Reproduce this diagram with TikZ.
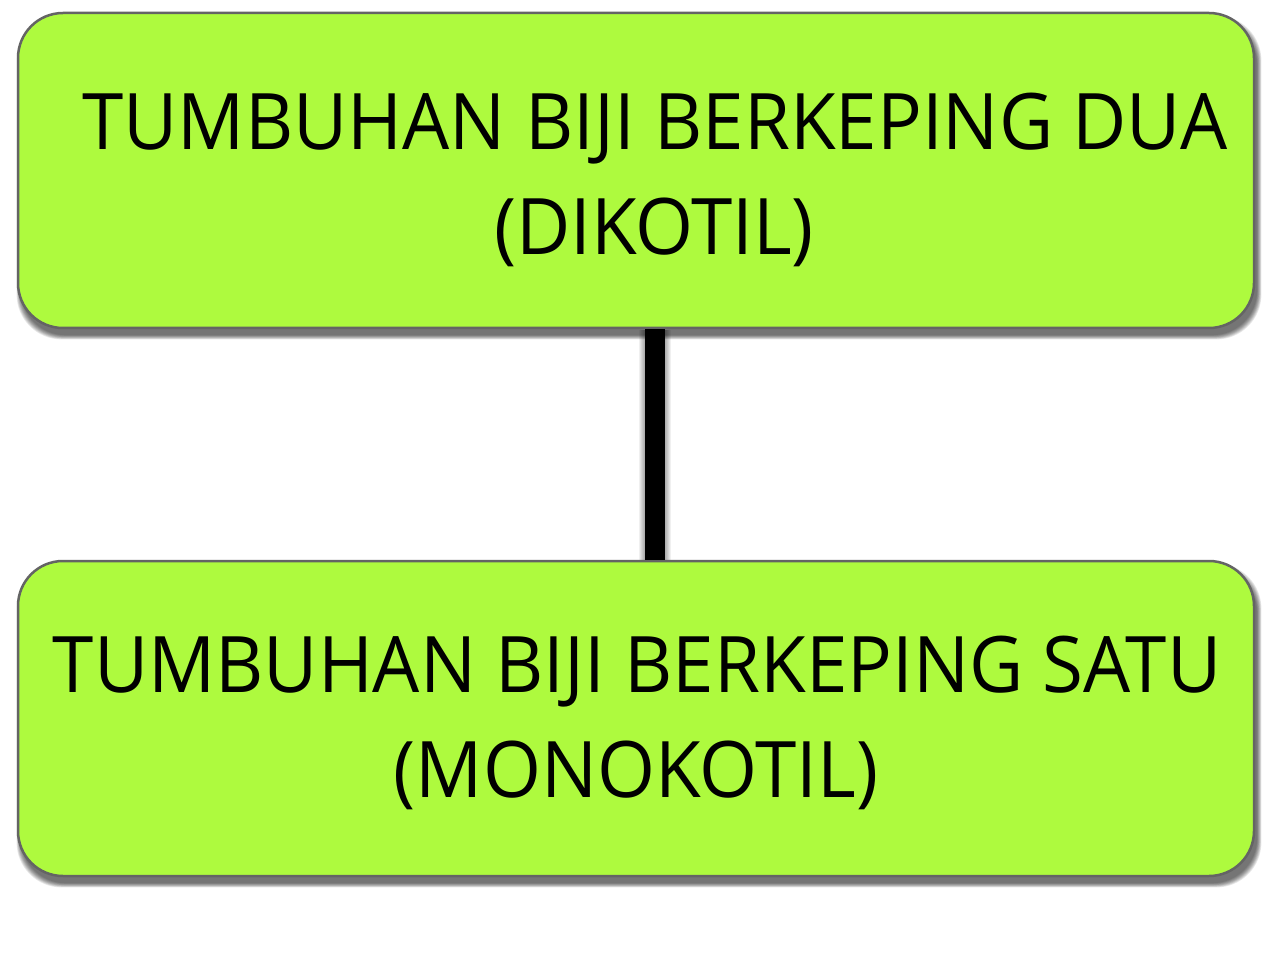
\documentclass[tikz,border=0pt]{standalone}
\usepackage{fontspec}
\setmainfont[FakeStretch=0.955]{Open Sans}
\definecolor{boxgreen}{RGB}{174,250,62}
\definecolor{boxedge}{RGB}{100,100,100}
\tikzset{
  box/.style={draw=boxedge, line width=2.5pt, fill=boxgreen, rounded corners=45pt,
    minimum width=1236pt, minimum height=315pt, inner sep=0pt},
  label/.style={font=\fontsize{78}{105}\selectfont, anchor=base, inner sep=0pt},
  link/.style={line width=20pt, draw=black},
}
\newcommand{\blurbox}[4]{% cx cy w h
  \foreach \i in {1,...,8}{
    \fill[black, opacity=0.09, rounded corners=45pt]
      ($(#1,#2)+(3,7)+(-#3/2-5+\i*0.6,-#4/2-5+\i*0.6)$) rectangle ($(#1,#2)+(3,7)+(#3/2+5-\i*0.6,#4/2+5-\i*0.6)$);
  }
}
\usetikzlibrary{calc}
\begin{document}
\begin{tikzpicture}[x=1pt,y=-1pt]
\useasboundingbox[fill=white] (0,0) rectangle (1272,968);
% shadows
\blurbox{636}{170.5}{1236}{315}
\blurbox{636}{718.5}{1236}{315}
\foreach \i in {1,...,6}{
  \fill[black,opacity=0.06] (655-10-\i,330) rectangle (655+10+\i,566);
}
\node[box] (top) at (636,170.5) {};
\node[box] (bot) at (636,718.5) {};
\draw[link] ([xshift=19pt]top.south) -- ([xshift=19pt]bot.north);
\node[label] (t1) at (655,150) {TUMBUHAN BIJI BERKEPING DUA};
\node[label] (t2) at (654,255) {(DIKOTIL)};
\node[label] (b1) at (637,692) {TUMBUHAN BIJI BERKEPING SATU};
\node[label] (b2) at (636,797) {(MONOKOTIL)};
\end{tikzpicture}
\end{document}
